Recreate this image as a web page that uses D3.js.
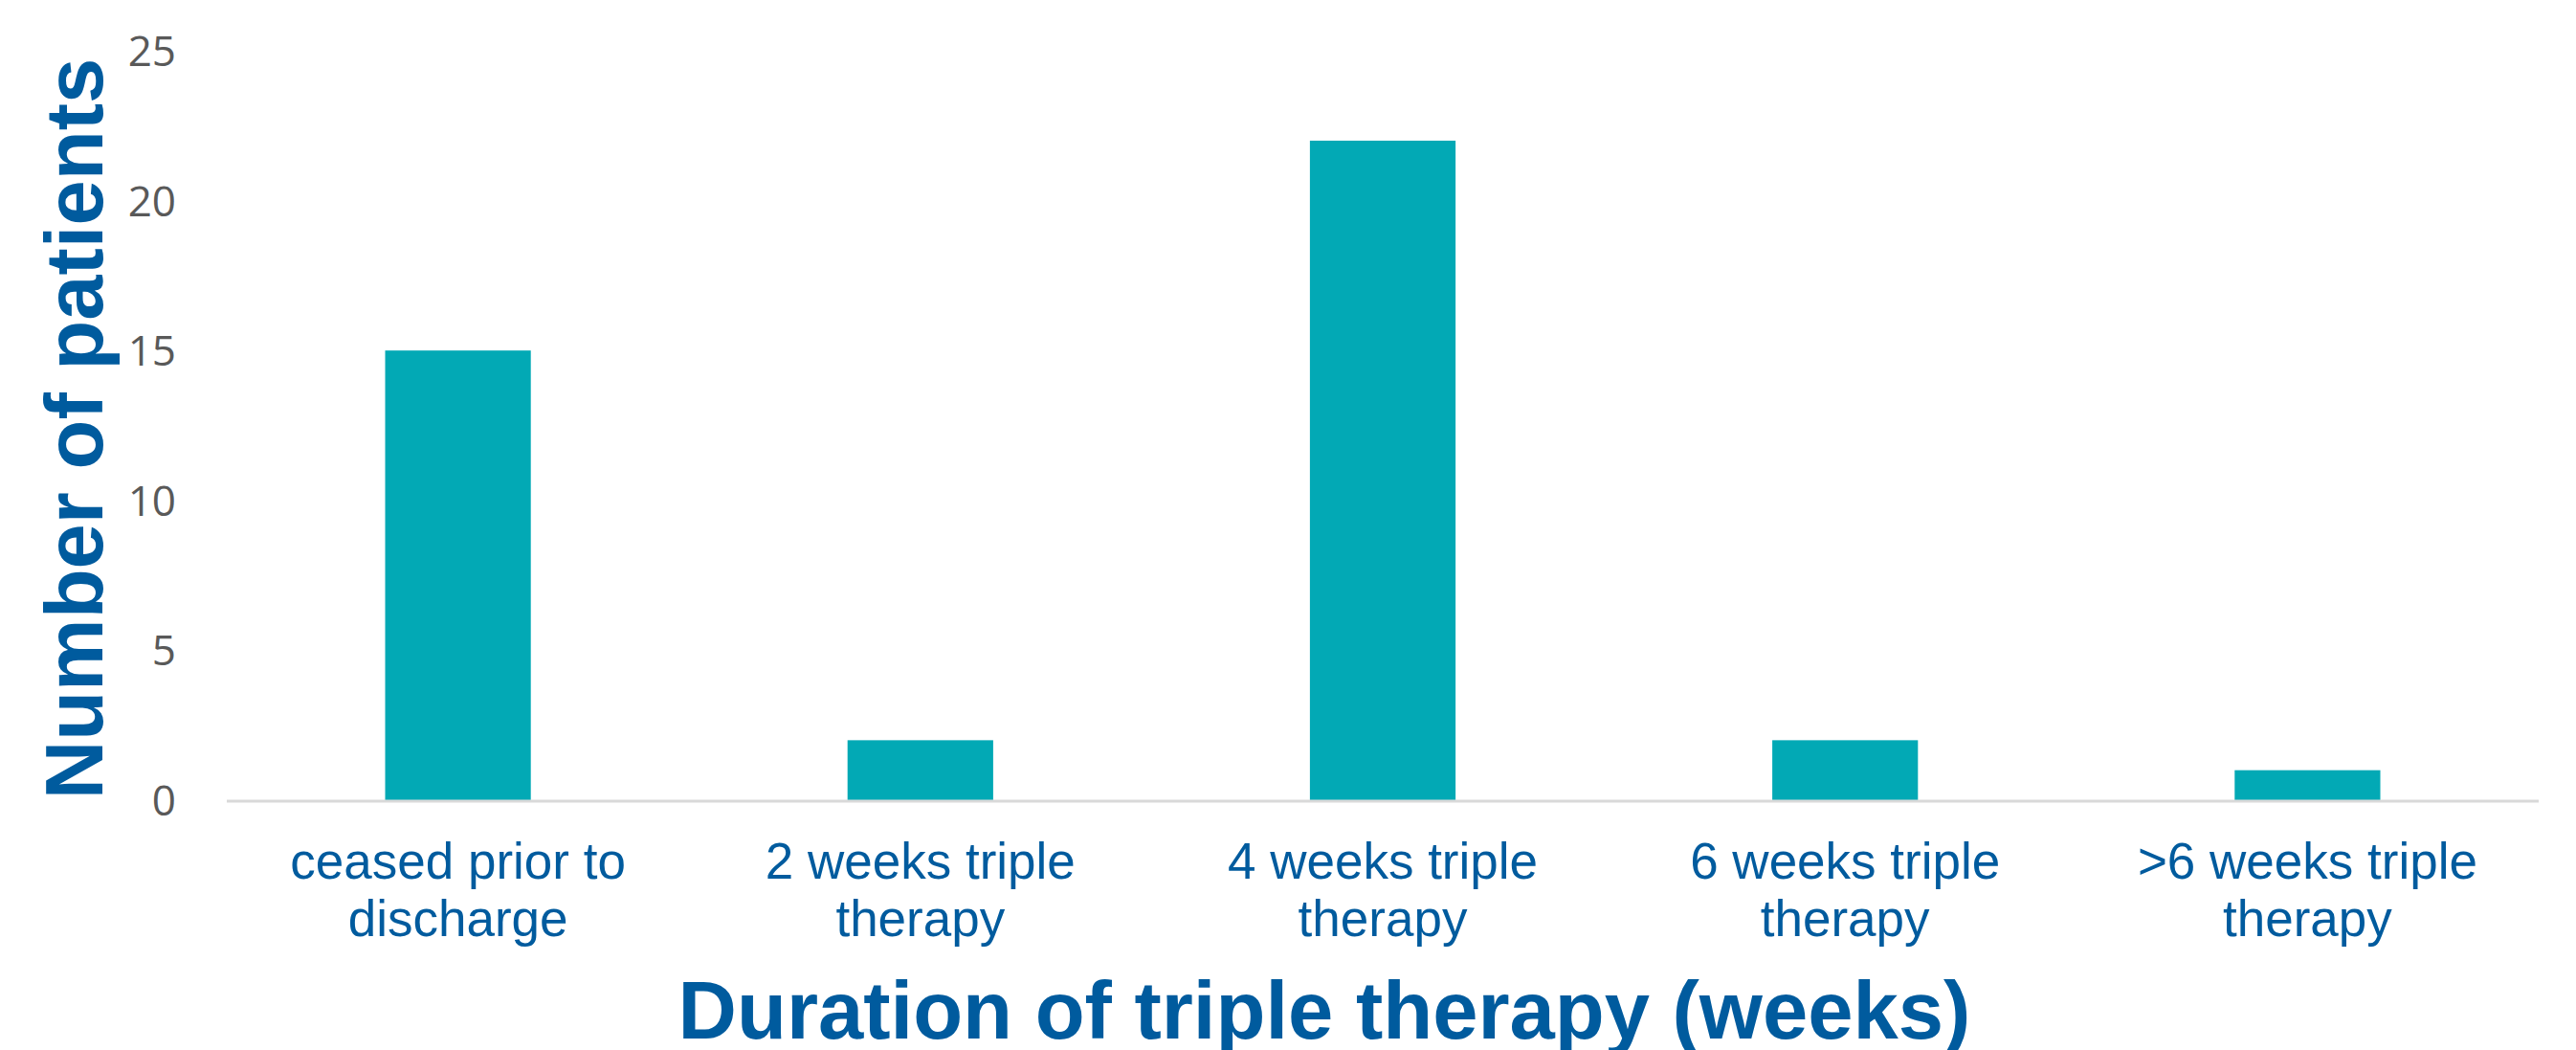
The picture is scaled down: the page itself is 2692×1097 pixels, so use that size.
<!DOCTYPE html>
<html>
<head>
<meta charset="utf-8">
<script src="https://cdn.jsdelivr.net/npm/d3@7"></script>
<style>
  html, body { margin: 0; padding: 0; background: #fff; }
</style>
</head>
<body>
<svg id="chart" width="2692" height="1097"></svg>
<script>
// chart data
var categories = [
    ["ceased prior to", "discharge"],
    ["2 weeks triple", "therapy"],
    ["4 weeks triple", "therapy"],
    ["6 weeks triple", "therapy"],
    [">6 weeks triple", "therapy"]
];
var patients = [15, 2, 22, 2, 1];
var yTicks = [0, 5, 10, 15, 20, 25];
var xTitle = "Duration of triple therapy (weeks)";
var yTitle = "Number of patients";

var blue = "#005b9e";
var teal = "#02a9b5";

var svg = d3.select("#chart");

var x = d3.scaleBand()
    .domain(d3.range(categories.length))
    .range([237, 2653])
    .paddingInner(0.685)
    .paddingOuter(0.3425);

var y = d3.scaleLinear()
    .domain([0, 25])
    .range([836, 53]);

// y axis labels (no line, no ticks)
var yAxis = d3.axisLeft(y)
    .tickValues(yTicks)
    .tickSize(0)
    .tickPadding(0);

var yg = svg.append("g")
    .attr("transform", "translate(184,0)")
    .call(yAxis);
yg.select(".domain").remove();
yg.selectAll("text")
    .attr("fill", "#595959")
    .style("font-family", "'Open Sans', sans-serif")
    .style("font-size", "44px")
    .attr("dy", "0.35em");

// bars
svg.append("g")
    .selectAll("rect")
    .data(patients)
    .enter().append("rect")
    .attr("x", function (d, i) { return x(i); })
    .attr("y", function (d) { return y(d); })
    .attr("width", x.bandwidth())
    .attr("height", function (d) { return y(0) - y(d); })
    .attr("fill", teal);

// baseline
svg.append("line")
    .attr("x1", x.range()[0])
    .attr("x2", x.range()[1])
    .attr("y1", y(0) + 1)
    .attr("y2", y(0) + 1)
    .attr("stroke", "#d9d9d9")
    .attr("stroke-width", 3);

// category labels, two lines each
var labels = svg.append("g")
    .selectAll("text")
    .data(categories)
    .enter().append("text")
    .attr("text-anchor", "middle")
    .attr("fill", blue)
    .style("font-family", "'Liberation Sans', Arial, sans-serif")
    .style("font-size", "53px");

labels.selectAll("tspan")
    .data(function (d, i) { return d.map(function (t) { return { t: t, i: i }; }); })
    .enter().append("tspan")
    .attr("x", function (d) { return x(d.i) + x.bandwidth() / 2; })
    .attr("y", function (d, j) { return 918 + j * 60; })
    .text(function (d) { return d.t; });

// axis titles
svg.append("text")
    .attr("x", 1384)
    .attr("y", 1085)
    .attr("text-anchor", "middle")
    .attr("fill", blue)
    .style("font-family", "'Liberation Sans', Arial, sans-serif")
    .style("font-weight", "bold")
    .style("font-size", "85px")
    .text(xTitle);

svg.append("text")
    .attr("transform", "translate(107,448) rotate(-90)")
    .attr("text-anchor", "middle")
    .attr("fill", blue)
    .style("font-family", "'Liberation Sans', Arial, sans-serif")
    .style("font-weight", "bold")
    .style("font-size", "85px")
    .text(yTitle);
</script>
</body>
</html>
